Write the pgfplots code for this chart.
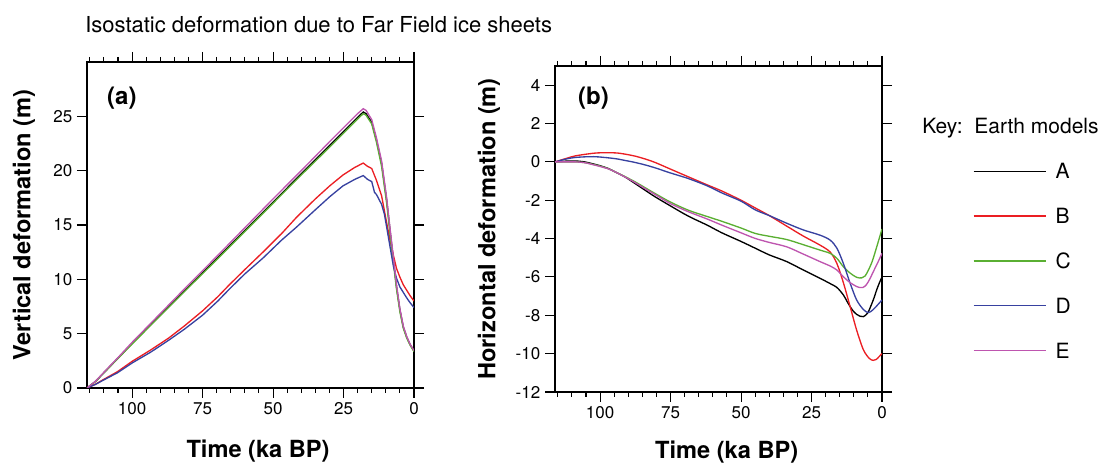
\documentclass[border=0pt]{standalone}
\usepackage{pgfplots}
\pgfplotsset{compat=1.18}
\usepackage{fontspec}
\setmainfont{TeX Gyre Heros}
\definecolor{cA}{RGB}{0,0,0}
\definecolor{cB}{RGB}{235,30,35}
\definecolor{cC}{RGB}{90,175,50}
\definecolor{cD}{RGB}{55,65,160}
\definecolor{cE}{RGB}{190,85,175}
\newcommand{\labfont}{\bfseries\fontsize{17.7}{20}\selectfont}
\begin{document}
\begin{tikzpicture}
\useasboundingbox (0,0) rectangle (827.25pt,347.25pt);
\pgfplotsset{
 panel/.style={
  scale only axis, width=245.25pt, height=244.5pt,
  anchor=south west,
  x dir=reverse, xmin=0, xmax=116,
  xtick={0,25,50,75,100},
  minor xtick={5,10,15,20,30,35,40,45,55,60,65,70,80,85,90,95,105,110,115},
  tick align=outside, tick pos=both, xticklabel pos=lower, yticklabel pos=left,
  major tick length=7.5pt, minor tick length=3.75pt,
  every tick/.style={black, line width=0.8pt},
  axis line style={line width=1.2pt},
  tick label style={font=\fontsize{12.75}{14}\selectfont},
  /pgf/number format/assume math mode=true,
  xlabel={Time (ka BP)},
  every axis plot/.append style={line width=1pt},
 }
}
\node[anchor=base west, inner sep=0pt, font=\fontsize{16.5}{18}\selectfont] at (63.75pt,322.7pt) {Isostatic deformation due to Far Field ice sheets};
\node[anchor=base west, inner sep=0pt, font=\fontsize{15.75}{18}\selectfont] at (691.5pt,247.3pt) {Key:\ \ Earth models};

\begin{axis}[panel, at={(65.25pt,56.25pt)},
  ymin=0, ymax=30, ytick={0,5,10,15,20,25},
  ylabel={Vertical deformation (m)},
  every axis x label/.style={at={(axis description cs:0.523,-0.2126)}, anchor=base, font=\labfont},
  every axis y label/.style={at={(axis description cs:-0.193,0.5)}, rotate=90, anchor=center, font=\labfont},
]
\addplot[cA] coordinates {(116,0) (113,0.6) (110,1.4) (105,2.75) (100,4.1) (90,6.7) (80,9.3) (70,11.9) (60,14.5) (50,17.1) (40,19.7) (30,22.3) (25,23.6) (20,24.9) (18,25.4) (17,25.25) (15,24.45) (13.3,22.8) (11.5,20.7) (9.7,17.3) (8.5,14.5) (7.3,11.8) (6.2,9.3) (5,7.2) (3.8,5.6) (2.6,4.7) (1.4,4.0) (0,3.4)};
\addplot[cB] coordinates {(116,0) (113,0.35) (110,0.8) (105.2,1.5) (100,2.45) (93.4,3.5) (87,4.6) (81.5,5.7) (75,7.1) (69.6,8.4) (65.5,9.5) (60,10.9) (53.6,12.5) (47,14.2) (41.7,15.7) (35,17.4) (29.9,18.6) (25.2,19.6) (21,20.3) (18,20.7) (16.5,20.4) (15,20.2) (13.3,19.1) (11.5,17.7) (9.7,15.2) (8.5,13.6) (7.3,12.2) (6.2,11.0) (5,10.2) (3.8,9.5) (2.6,9.0) (1.4,8.5) (0,8.0)};
\addplot[cC] coordinates {(116,0) (113,0.6) (110,1.4) (105,2.72) (100,4.05) (90,6.65) (80,9.25) (70,11.8) (60,14.4) (50,17.0) (40,19.6) (30,22.15) (25,23.45) (20,24.75) (18,25.25) (17,25.1) (15,24.3) (13.3,22.6) (11.5,20.4) (9.7,17.0) (8.5,14.2) (7.3,11.5) (6.2,9.1) (5,7.0) (3.8,5.5) (2.6,4.6) (1.4,3.95) (0,3.35)};
\addplot[cD] coordinates {(116,0) (113,0.33) (110,0.75) (105.2,1.4) (100,2.3) (93.4,3.3) (87,4.4) (81.5,5.4) (75,6.7) (69.6,8.0) (65.5,9.1) (60,10.5) (53.6,11.95) (47,13.6) (41.7,14.8) (35,16.4) (29.9,17.6) (25.2,18.6) (21,19.2) (18,19.55) (16.5,19.2) (15,19.0) (14,18.0) (13.3,17.8) (11.5,16.9) (10.5,16.0) (9.7,14.8) (8.5,13.0) (7.3,11.2) (6.2,10.1) (5,9.3) (3.8,8.8) (2.6,8.3) (1.4,7.85) (0,7.4)};
\addplot[cE] coordinates {(116,0) (113,0.62) (110,1.45) (105,2.8) (100,4.2) (90,6.85) (80,9.5) (70,12.1) (60,14.75) (50,17.4) (40,20.0) (30,22.65) (25,23.95) (20,25.25) (18,25.7) (17,25.55) (15,24.7) (13.3,23.0) (11.5,20.9) (9.7,17.5) (8.5,14.7) (7.3,12.0) (6.2,9.5) (5,7.3) (3.8,5.7) (2.6,4.75) (1.4,4.05) (0,3.45)};
\node[anchor=west, inner sep=0pt, font=\bfseries\fontsize{18}{20}\selectfont] at (axis description cs:0.061,0.89) {(a)};
\end{axis}

\begin{axis}[panel, at={(416.25pt,53.25pt)},
  ymin=-12, ymax=5, ytick={-12,-10,-8,-6,-4,-2,0,2,4},
  ylabel={Horizontal deformation (m)},
  every axis x label/.style={at={(axis description cs:0.525,-0.203)}, anchor=base, font=\labfont},
  every axis y label/.style={at={(axis description cs:-0.202,0.5)}, rotate=90, anchor=center, font=\labfont},
  legend style={at={(axis description cs:1.2774,0.7015)}, anchor=north west, draw=none, fill=none,
    inner sep=0pt, row sep=22.1pt, column sep=7pt,
    font=\fontsize{15.75}{18}\selectfont,
    nodes={inner sep=0pt, text height=11.5pt, text depth=0pt}},
  legend cell align=left,
  legend image code/.code={\draw[line width=1pt,#1] (0pt,0pt) -- (54pt,0pt);},
]
\addlegendimage{draw=cA}
\addlegendimage{draw=cB}
\addlegendimage{draw=cC}
\addlegendimage{draw=cD}
\addlegendimage{draw=cE}
\addplot[cA, smooth, tension=0.5, forget plot] coordinates {(116,0) (112,0.04) (108.9,0.05) (105.5,0.0) (102.9,-0.09) (100,-0.2) (97,-0.35) (94.7,-0.52) (91,-0.8) (87.6,-1.13) (84,-1.48) (80.5,-1.82) (75,-2.3) (68.7,-2.83) (62,-3.3) (56.8,-3.7) (50,-4.15) (45,-4.5) (40,-4.85) (33.8,-5.2) (27.9,-5.64) (22,-6.07) (19,-6.3) (16,-6.55) (13.7,-6.94) (12.5,-7.25) (11.3,-7.55) (10.2,-7.78) (9,-7.95) (7.8,-8.05) (6.6,-8.07) (5.5,-7.95) (4.8,-7.81) (3.1,-7.2) (1.9,-6.68) (0.9,-6.3) (0,-6.0)};
\addplot[cB, smooth, tension=0.5, forget plot] coordinates {(116,0) (112,0.18) (108.9,0.31) (104,0.42) (100.6,0.47) (94.7,0.47) (91,0.4) (87.6,0.30) (84,0.15) (80.5,-0.03) (75,-0.38) (68.7,-0.78) (62,-1.2) (56.8,-1.52) (50,-2.0) (45,-2.4) (40,-2.8) (33.8,-3.35) (27.9,-3.87) (22,-4.34) (18.4,-4.7) (16,-5.3) (13.7,-6.3) (11.3,-7.55) (9,-8.77) (6.6,-9.8) (4.5,-10.25) (3.1,-10.35) (2,-10.3) (1,-10.15) (0,-10.0)};
\addplot[cC, smooth, tension=0.5, forget plot] coordinates {(116,0) (112,0) (108.9,0) (105.5,-0.04) (102.9,-0.12) (100,-0.22) (97,-0.36) (94.7,-0.52) (91,-0.78) (87.6,-1.04) (84,-1.35) (80.5,-1.65) (75,-2.1) (68.7,-2.52) (62,-2.85) (56.8,-3.1) (50,-3.45) (45,-3.73) (40,-3.88) (33.8,-4.05) (27.9,-4.32) (22,-4.6) (18.4,-4.77) (16,-5.03) (13.7,-5.47) (11.3,-5.8) (9,-6.02) (7.2,-6.05) (6,-5.95) (4.8,-5.64) (3.5,-5.2) (2.4,-4.69) (1.2,-4.1) (0,-3.5)};
\addplot[cD, smooth, tension=0.5, forget plot] coordinates {(116,0) (112,0.15) (108.9,0.23) (104,0.27) (100.6,0.26) (94.7,0.17) (91,0.07) (87.6,-0.03) (84,-0.16) (80.5,-0.31) (75,-0.58) (68.7,-0.87) (62,-1.25) (56.8,-1.62) (50,-2.05) (45,-2.5) (40,-2.8) (33.8,-3.2) (27.9,-3.55) (22,-3.82) (18.4,-4.08) (16,-4.5) (13.7,-5.3) (11.3,-6.33) (9,-7.2) (6.6,-7.7) (4.8,-7.86) (3.1,-7.7) (1.5,-7.45) (0,-7.2)};
\addplot[cE, smooth, tension=0.5, forget plot] coordinates {(116,0) (112,0) (108.9,0) (105.5,-0.04) (102.9,-0.13) (100,-0.24) (97,-0.37) (94.7,-0.52) (91,-0.8) (87.6,-1.08) (84,-1.4) (80.5,-1.70) (75,-2.18) (68.7,-2.6) (62,-2.98) (56.8,-3.3) (50,-3.7) (45,-3.99) (40,-4.2) (33.8,-4.43) (27.9,-4.81) (22,-5.2) (18.4,-5.43) (16,-5.64) (13.7,-5.99) (11.3,-6.3) (9,-6.5) (8,-6.55) (6.8,-6.55) (5.6,-6.42) (4.3,-6.1) (3.1,-5.73) (1.5,-5.25) (0,-4.77)};
\legend{A,B,C,D,E}
\node[anchor=west, inner sep=0pt, font=\bfseries\fontsize{18}{20}\selectfont] at (axis description cs:0.070,0.902) {(b)};
\end{axis}
\end{tikzpicture}
\end{document}
